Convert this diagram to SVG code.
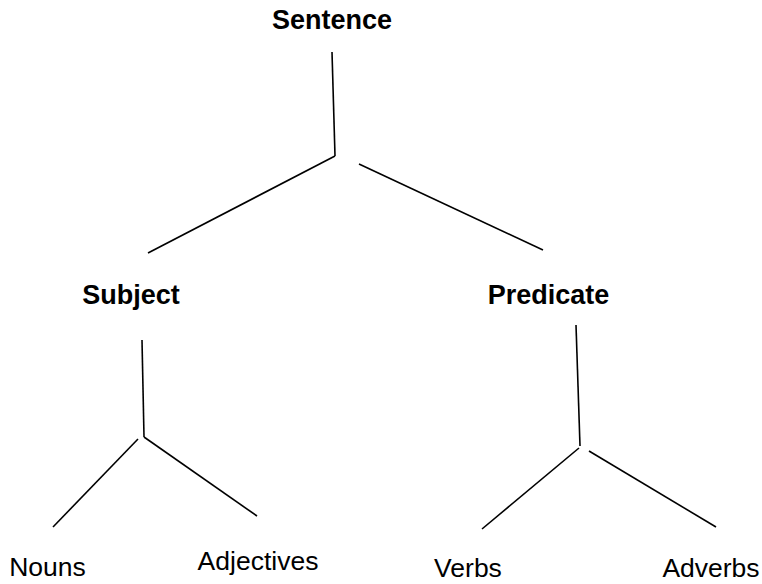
<svg xmlns="http://www.w3.org/2000/svg" width="762" height="584" viewBox="0 0 762 584">
<style>
.bg{fill:#ffffff}
.lbl{font-family:"Liberation Sans",Arial,sans-serif;fill:#000;text-anchor:middle}
.b{font-weight:bold;font-size:27px}
.r{font-size:26.5px}
.edge{stroke:#000;stroke-width:1.6;fill:none;stroke-linecap:butt}
</style>
<rect class="bg" x="0" y="0" width="762" height="584"/>
<g id="connectors">
<line class="edge" x1="332" y1="52" x2="335" y2="156"/>
<line class="edge" x1="335" y1="156" x2="148" y2="253"/>
<line class="edge" x1="359" y1="164" x2="543" y2="250"/>
<line class="edge" x1="142" y1="340" x2="144" y2="437"/>
<line class="edge" x1="138" y1="439" x2="53" y2="527"/>
<line class="edge" x1="144" y1="437" x2="257" y2="516"/>
<line class="edge" x1="576" y1="325" x2="580" y2="446"/>
<line class="edge" x1="579" y1="448" x2="482" y2="529"/>
<line class="edge" x1="589" y1="451" x2="716" y2="527"/>
</g>
<g id="sentence"><text class="lbl b" x="332" y="29">Sentence</text></g>
<g id="subject"><text class="lbl b" x="131" y="304">Subject</text></g>
<g id="predicate"><text class="lbl b" x="548.5" y="304">Predicate</text></g>
<g id="nouns"><text class="lbl r" x="47.5" y="576">Nouns</text></g>
<g id="adjectives"><text class="lbl r" x="258" y="570">Adjectives</text></g>
<g id="verbs"><text class="lbl r" x="468" y="577">Verbs</text></g>
<g id="adverbs"><text class="lbl r" x="711" y="577">Adverbs</text></g>
</svg>
